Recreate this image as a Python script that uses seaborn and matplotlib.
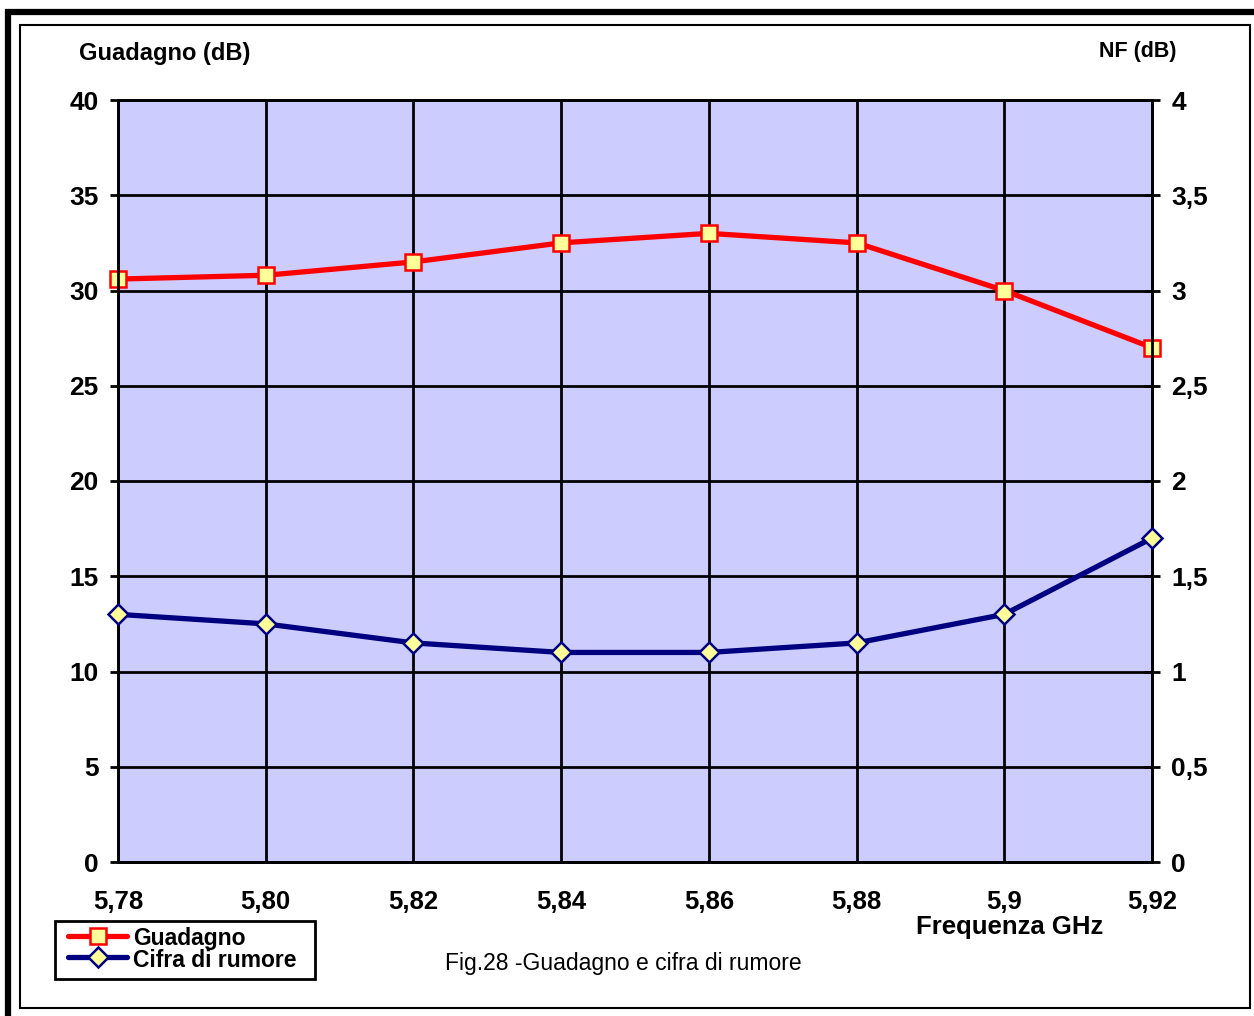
import numpy as np
import pandas as pd
import matplotlib
matplotlib.use("Agg")
import matplotlib.pyplot as plt
import seaborn as sns
from matplotlib.lines import Line2D
from matplotlib.patches import Rectangle

# Data
freq_labels = ["5,78", "5,80", "5,82", "5,84", "5,86", "5,88", "5,9", "5,92"]
guadagno = [30.6, 30.8, 31.5, 32.5, 33.0, 32.5, 30.0, 27.0]
nf = [1.30, 1.25, 1.15, 1.10, 1.10, 1.15, 1.30, 1.70]
left_ticks = [0, 5, 10, 15, 20, 25, 30, 35, 40]
right_ticks = [0, 0.5, 1, 1.5, 2, 2.5, 3, 3.5, 4]
right_tick_labels = ["0", "0,5", "1", "1,5", "2", "2,5", "3", "3,5", "4"]

df = pd.DataFrame({"freq": freq_labels, "guadagno": guadagno, "nf": nf})

sns.set_theme(style="white")
plt.rcParams["font.family"] = ["Liberation Sans", "DejaVu Sans"]
plt.rcParams["text.color"] = "black"

W, H = 1254, 1016
fig = plt.figure(figsize=(W / 100, H / 100), dpi=100)
ax = fig.add_axes([118 / W, 1 - 862 / H, (1152 - 118) / W, (862 - 100) / H])
ax.set_facecolor("#CCCCFF")

red = "#FF0000"
navy = "#000080"
yellow = "#FFFF99"

red_style = dict(color=red, linewidth=3.8, marker="s", markersize=12,
                 markerfacecolor=yellow, markeredgecolor=red, markeredgewidth=1.8)
navy_style = dict(color=navy, linewidth=3.8, marker="D", markersize=10,
                  markerfacecolor=yellow, markeredgecolor=navy, markeredgewidth=1.8)

sns.lineplot(data=df, x="freq", y="guadagno", ax=ax, sort=False, zorder=5, **red_style)

ax2 = ax.twinx()
sns.lineplot(data=df, x="freq", y="nf", ax=ax2, sort=False, zorder=5, **navy_style)

for line in ax.lines + ax2.lines:
    line.set_clip_on(False)

ax.set_xlim(0, len(freq_labels) - 1)
ax.set_ylim(0, 40)
ax2.set_ylim(0, 4)
ax.set_xticks(range(len(freq_labels)))
ax.set_xticklabels(freq_labels)
ax.set_yticks(left_ticks)
ax2.set_yticks(right_ticks)
ax2.set_yticklabels(right_tick_labels)

ax.grid(True, color="black", linewidth=2)
ax.set_axisbelow(True)
ax.set_xlabel("")
ax.set_ylabel("")
ax2.set_ylabel("")

for a in (ax, ax2):
    for s in a.spines.values():
        s.set_color("black")
        s.set_linewidth(2)

ax.tick_params(axis="y", direction="out", length=6, width=2, pad=8,
               labelsize=19, colors="black")
ax.tick_params(axis="x", direction="out", length=7, width=2, pad=13,
               labelsize=18.5, colors="black")
ax2.tick_params(axis="y", direction="inout", length=12, width=2, pad=8,
                labelsize=19, colors="black")
for lab in ax.get_xticklabels() + ax.get_yticklabels() + ax2.get_yticklabels():
    lab.set_fontweight("bold")

# Axis titles and caption
fig.text(165 / W, 1 - 60 / H, "Guadagno (dB)", ha="center", va="baseline",
         fontsize=17, fontweight="bold", color="black")
fig.text(1138 / W, 1 - 57 / H, "NF (dB)", ha="center", va="baseline",
         fontsize=15.5, fontweight="bold", color="black")
fig.text(1010 / W, 1 - 934 / H, "Frequenza GHz", ha="center", va="baseline",
         fontsize=18.5, fontweight="bold", color="black")
fig.text(623 / W, 1 - 970 / H, "Fig.28 -Guadagno e cifra di rumore",
         ha="center", va="baseline", fontsize=16.5, color="black")

# Legend (drawn by hand to match the tight rows of the original)
fig.add_artist(Rectangle((55 / W, 1 - 979 / H), 260 / W, 58 / H,
                         transform=fig.transFigure, facecolor="white",
                         edgecolor="black", linewidth=2, zorder=10))
for yy, style, label, base in [(936, red_style, "Guadagno", 945),
                               (957, navy_style, "Cifra di rumore", 967)]:
    line_only = {k: v for k, v in style.items() if k in ("color", "linewidth")}
    mark_only = {k: v for k, v in style.items() if k != "linewidth"}
    fig.add_artist(Line2D([68 / W, 127 / W], [1 - yy / H, 1 - yy / H],
                          transform=fig.transFigure, zorder=11, **line_only))
    fig.add_artist(Line2D([98 / W], [1 - yy / H], transform=fig.transFigure,
                          linestyle="None", zorder=12, **mark_only))
    fig.text(133 / W, 1 - base / H, label, ha="left", va="baseline",
             fontsize=16.5, fontweight="bold", color="black", zorder=13)

# Frames around the figure
fig.add_artist(Rectangle((20 / W, 1 - 1008 / H), 1230 / W, 983 / H,
                         transform=fig.transFigure, fill=False,
                         edgecolor="black", linewidth=1.5))
fig.add_artist(Line2D([5 / W, 1], [1 - 12 / H, 1 - 12 / H],
                      transform=fig.transFigure, color="black", linewidth=4.5,
                      solid_capstyle="butt"))
fig.add_artist(Line2D([8 / W, 8 / W], [0, 1 - 9 / H],
                      transform=fig.transFigure, color="black", linewidth=4.5,
                      solid_capstyle="butt"))

fig.savefig("out.png", dpi=100, facecolor="white")
